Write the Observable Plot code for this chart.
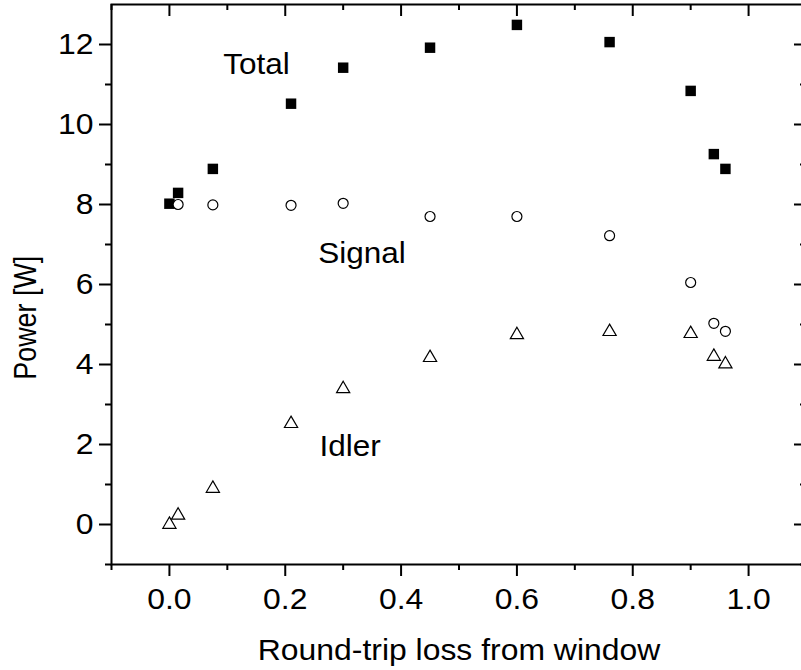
<!DOCTYPE html>
<html><head><meta charset="utf-8">
<script src="https://cdn.jsdelivr.net/npm/d3@7"></script>
<script src="https://cdn.jsdelivr.net/npm/@observablehq/plot@0.6"></script>
<style>body{margin:0;background:#fff}</style>
</head><body><div id="chart"></div>
<script>
// Data
const loss = [0, 0.015, 0.075, 0.21, 0.3, 0.45, 0.6, 0.76, 0.9, 0.94, 0.96];
const totalPower = [8.02, 8.29, 8.89, 10.52, 11.42, 11.92, 12.49, 12.06, 10.84, 9.26, 8.89];
const signalLoss = [0.015, 0.075, 0.21, 0.3, 0.45, 0.6, 0.76, 0.9, 0.94, 0.96];
const signalPower = [8.0, 7.99, 7.98, 8.03, 7.7, 7.7, 7.22, 6.05, 5.03, 4.83];
const idlerPower = [0.0, 0.23, 0.9, 2.52, 3.39, 4.17, 4.74, 4.82, 4.77, 4.2, 4.01];

const xMajorTicks = [0, 0.2, 0.4, 0.6, 0.8, 1.0];
const xMinorTicks = [-0.1, 0.1, 0.3, 0.5, 0.7, 0.9, 1.1];
const yMajorTicks = [0, 2, 4, 6, 8, 10, 12];
const yMinorTicks = [-1, 1, 3, 5, 7, 9, 11];

const seriesNames = ["Total", "Signal", "Idler"];
const seriesLabelX = [0.093, 0.257, 0.259];
const seriesLabelY = [11.5, 6.79, 1.96];

const xTitle = "Round-trip loss from window";
const yTitle = "Power [W]";

const total = loss.map((x, i) => ({x, y: totalPower[i]}));
const signal = signalLoss.map((x, i) => ({x, y: signalPower[i]}));
const idler = loss.map((x, i) => ({x, y: idlerPower[i]}));
const annotations = seriesNames.map((t, i) => ({t, x: seriesLabelX[i], y: seriesLabelY[i]}));

const chart = Plot.plot({
  width: 801,
  height: 670,
  marginLeft: 111,
  marginRight: -5,
  marginTop: 4,
  marginBottom: 106,
  style: {fontFamily: "'Liberation Sans', Arial, sans-serif", color: "#000", background: "#fff"},
  x: {domain: [-0.1, 1.1], label: null},
  y: {domain: [-1, 13], label: null},
  marks: [
    Plot.frame({stroke: "#000", strokeWidth: 2}),
    Plot.axisX(xMajorTicks, {anchor: "bottom", tickSize: 12, tickPadding: 12, tickFormat: d3.format(".1f"), fontSize: 29, strokeWidth: 2, label: null}),
    Plot.axisX(xMinorTicks, {anchor: "bottom", tickSize: 6, tickFormat: () => "", strokeWidth: 2, label: null}),
    Plot.axisY(yMajorTicks, {anchor: "left", tickSize: 12, tickPadding: 6, fontSize: 29, strokeWidth: 2, label: null}),
    Plot.axisY(yMinorTicks, {anchor: "left", tickSize: 6, tickFormat: () => "", strokeWidth: 2, label: null}),
    Plot.tickX(xMajorTicks, {x: d => d, insetBottom: 548, strokeWidth: 2}),
    Plot.tickX(xMinorTicks, {x: d => d, insetBottom: 554, strokeWidth: 2}),
    Plot.tickY(yMajorTicks, {y: d => d, insetLeft: 683, strokeWidth: 2}),
    Plot.tickY(yMinorTicks, {y: d => d, insetLeft: 689, strokeWidth: 2}),
    Plot.dot(idler, {x: "x", y: "y", symbol: "triangle", r: 4.9, stroke: "#000", fill: "none", strokeWidth: 1.2}),
    Plot.dot(total, {x: "x", y: "y", symbol: "square", r: 5.9, fill: "#000", stroke: "none"}),
    Plot.dot(signal, {x: "x", y: "y", symbol: "circle", r: 5, stroke: "#000", fill: "#fff", strokeWidth: 1.2}),
    Plot.text(annotations, {x: "x", y: "y", text: "t", textAnchor: "start", lineAnchor: "middle", fontSize: 30}),
    Plot.text([xTitle], {frameAnchor: "bottom", lineAnchor: "middle", dy: 86.7, fontSize: 29}),
    Plot.text([yTitle], {x: () => -0.1, y: () => 5.17, rotate: -90, textAnchor: "middle", lineAnchor: "middle", dx: -85, fontSize: 31})
  ]
});
document.getElementById("chart").append(chart);

// Widen glyphs to match the reference's wide type, keeping each text's anchor point
function anchorPoint(b, anchor) {
  return anchor === "end" ? b.x + b.width : anchor === "middle" ? b.x + b.width / 2 : b.x;
}
chart.querySelectorAll("text").forEach(t => {
  if (!t.textContent.trim()) return;
  const cs = getComputedStyle(t);
  const fs = parseFloat(cs.fontSize);
  const anchor = cs.textAnchor;
  const b0 = t.getBBox();
  const L = t.getComputedTextLength();
  const target = fs >= 31 ? 124 : fs >= 30 ? L * 1.05 : L * 1.1;
  t.setAttribute("textLength", target);
  t.setAttribute("lengthAdjust", "spacingAndGlyphs");
  const b1 = t.getBBox();
  const shift = anchorPoint(b0, anchor) - anchorPoint(b1, anchor);
  if (Math.abs(shift) > 0.1) t.setAttribute("dx", shift);
});
</script>
</body></html>
